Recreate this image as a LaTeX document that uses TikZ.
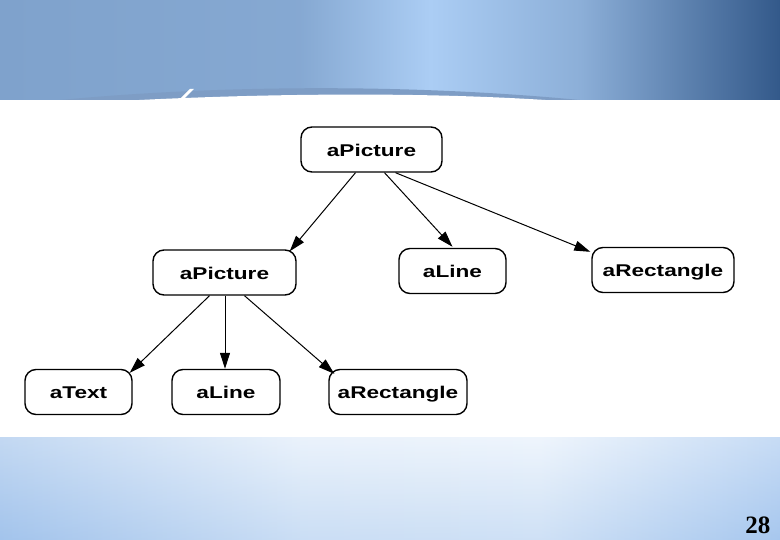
\documentclass[tikz,border=0pt]{standalone}
\usepackage{fontspec}
\setmainfont{Liberation Serif}
\newfontfamily\nodefont{Liberation Sans}
\usetikzlibrary{arrows.meta,shapes.misc}
\definecolor{bandL}{HTML}{7FA2CC}
\definecolor{bandM}{HTML}{ABCDF4}
\definecolor{bandR}{HTML}{33598A}
\definecolor{botL}{HTML}{A3C4EC}
\definecolor{botM}{HTML}{E6F0FB}
\definecolor{botR}{HTML}{A9C9F0}
\definecolor{stripe}{HTML}{7E9DC5}
\tikzset{
  obj/.style={draw=black, line width=1.4pt, rounded corners=11pt, fill=white,
    minimum height=45pt, inner sep=0pt, text height=14pt, text depth=0pt,
    font=\nodefont\bfseries\fontsize{17}{20}\selectfont},
  link/.style={draw=black, line width=1pt, -{Triangle[length=16pt,width=10pt]}}
}
\newcommand{\wide}[1]{\scalebox{1.33}[1]{#1}}
\begin{document}
\begin{tikzpicture}[x=1pt,y=-1pt]
\useasboundingbox (0,0) rectangle (780,540);
% top band
\shade[left color=bandL, right color=bandL!85!bandM] (0,0) rectangle (300,101);
\shade[left color=bandL!85!bandM, right color=bandM] (300,0) rectangle (430,101);
\shade[left color=bandM, right color=bandL!70!bandM] (430,0) rectangle (580,101);
\shade[left color=bandL!70!bandM, right color=bandR] (580,0) rectangle (780,101);
% curved stripe
\fill[stripe] (50,101) .. controls (200,86) and (400,82) .. (590,101) -- cycle;
\fill[white] (120,101) .. controls (250,94) and (420,91) .. (560,101) -- cycle;
\fill[white] (178,101) -- (190,89) -- (194,89) -- (182,101) -- cycle;
% white panel
\fill[white] (0,100) rectangle (780,437);
% bottom band
\shade[left color=botL, right color=botM!90!botL] (0,437) rectangle (300,540);
\shade[left color=botM!90!botL, right color=botM] (300,437) rectangle (540,540);
\shade[left color=botM, right color=botR] (540,437) rectangle (780,540);
\shade[top color=white, bottom color=botL, opacity=0.35] (0,437) rectangle (780,540);
\node[font=\bfseries\fontsize{25}{28}\selectfont, anchor=base east] (pg) at (774,533) {28};
% nodes
\node[obj, minimum width=141pt] (top) at (371.5,149.5) {\wide{aPicture}};
\node[obj, minimum width=143pt] (mid) at (224.5,272.5) {\wide{aPicture}};
\node[obj, minimum width=107pt] (lineR) at (452.5,271) {\wide{aLine}};
\node[obj, minimum width=142pt] (rectR) at (663,270) {\wide{aRectangle}};
\node[obj, minimum width=107pt] (text) at (78.5,392) {\wide{aText}};
\node[obj, minimum width=108pt] (lineB) at (226,392) {\wide{aLine}};
\node[obj, minimum width=138pt] (rectB) at (398,392) {\wide{aRectangle}};
% connectors
\draw[link] ([xshift=-16pt]top.south) -- ([xshift=-7pt,yshift=-2pt]mid.north east);
\draw[link] ([xshift=13pt]top.south) -- ([yshift=1pt]lineR.north);
\draw[link] ([xshift=24pt]top.south) -- ([xshift=-1pt,yshift=-5pt]rectR.north west);
\draw[link] ([xshift=-15pt]mid.south) -- ([xshift=-3pt,yshift=-4pt]text.north east);
\draw[link] ([xshift=0.5pt]mid.south) -- ([xshift=-1pt]lineB.north);
\draw[link] ([xshift=20pt]mid.south) -- ([xshift=6pt,yshift=-5pt]rectB.north west);
\end{tikzpicture}
\end{document}
